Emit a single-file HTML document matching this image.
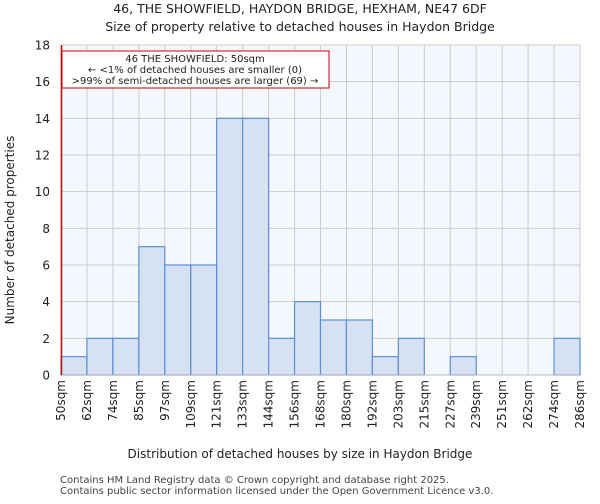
<!DOCTYPE html>
<html><head><meta charset="utf-8"><style>
body{margin:0;background:#fff;font-family:"DejaVu Sans","Liberation Sans",sans-serif;}
</style></head><body>
<svg id="chart" width="600" height="500" xmlns="http://www.w3.org/2000/svg" font-family="DejaVu Sans, Liberation Sans, sans-serif">
<text x="300" y="13" text-anchor="middle" font-size="12.5" fill="#222">46, THE SHOWFIELD, HAYDON BRIDGE, HEXHAM, NE47 6DF</text>
<text x="300" y="31" text-anchor="middle" font-size="12.5" fill="#222">Size of property relative to detached houses in Haydon Bridge</text>
<rect x="61" y="45" width="519" height="330" fill="#f4f7fd"/>
<g id="grid"></g>
<g id="bars"></g>
<g id="yaxis"></g>
<g id="xaxis"></g>
<line x1="61" y1="375" x2="580" y2="375" stroke="#bbb"/>
<line x1="61.5" y1="45" x2="61.5" y2="375" stroke="#c00" stroke-width="1.5"/>
<g>
<rect x="62" y="51" width="267" height="37" fill="#fff" stroke="#c00" stroke-width="1"/>
<text x="195" y="62" text-anchor="middle" font-size="10" fill="#222">46 THE SHOWFIELD: 50sqm</text>
<text x="195" y="73" text-anchor="middle" font-size="10" fill="#222">← &lt;1% of detached houses are smaller (0)</text>
<text x="195" y="84" text-anchor="middle" font-size="10" fill="#222">&gt;99% of semi-detached houses are larger (69) →</text>
</g>
<text x="14" y="230" transform="rotate(-90 14 230)" text-anchor="middle" font-size="12" fill="#222">Number of detached properties</text>
<text x="300" y="458" text-anchor="middle" font-size="12" fill="#222">Distribution of detached houses by size in Haydon Bridge</text>
<text x="60" y="483" font-size="10" fill="#444">Contains HM Land Registry data © Crown copyright and database right 2025.</text>
<text x="60" y="494" font-size="10" fill="#444">Contains public sector information licensed under the Open Government Licence v3.0.</text>
</svg>
<script>
const categories = ["50sqm","62sqm","74sqm","85sqm","97sqm","109sqm","121sqm","133sqm","144sqm","156sqm","168sqm","180sqm","192sqm","203sqm","215sqm","227sqm","239sqm","251sqm","262sqm","274sqm","286sqm"];
const counts = [1,2,2,7,6,6,14,14,2,4,3,3,1,2,0,1,0,0,0,2];
const yTicks = [0,2,4,6,8,10,12,14,16,18];
const NS="http://www.w3.org/2000/svg";
const x0=61,x1=580,yb=375,yt=45,ymax=18;
const bw=(x1-x0)/counts.length;
const xs=i=>x0+i*bw;
const ys=v=>yb-(v/ymax)*(yb-yt);
function mk(t,a,p){const e=document.createElementNS(NS,t);for(const k in a)e.setAttribute(k,a[k]);p.appendChild(e);return e;}
const grid=document.getElementById('grid'),bars=document.getElementById('bars'),ya=document.getElementById('yaxis'),xa=document.getElementById('xaxis');
yTicks.forEach(v=>{
  const l=mk('line',{x1:x0,x2:x1,y1:ys(v),y2:ys(v),stroke:'#ccc'},grid);
  
  
  const t=mk('text',{x:50,y:ys(v)+4.5,'text-anchor':'end','font-size':'12',fill:'#222'},ya);
  t.textContent=v;
  
  
});
categories.forEach((c,i)=>{
  const l=mk('line',{x1:xs(i),x2:xs(i),y1:yt,y2:yb,stroke:'#ccc'},grid);
  
  
  const tx=xs(i)+4,ty=380;
  const t=mk('text',{x:tx,y:ty,'text-anchor':'end','font-size':'12',fill:'#222',transform:`rotate(-90 ${tx} ${ty})`},xa);
  t.textContent=c;
  
  
});
counts.forEach((v,i)=>{
  if(v<=0)return;
  const r=mk('rect',{x:xs(i),y:ys(v),width:bw,height:yb-ys(v),fill:'#d6e1f3',stroke:'#5b8fd6','stroke-width':'1.2'},bars);
  
  
});
</script>
</body></html>
